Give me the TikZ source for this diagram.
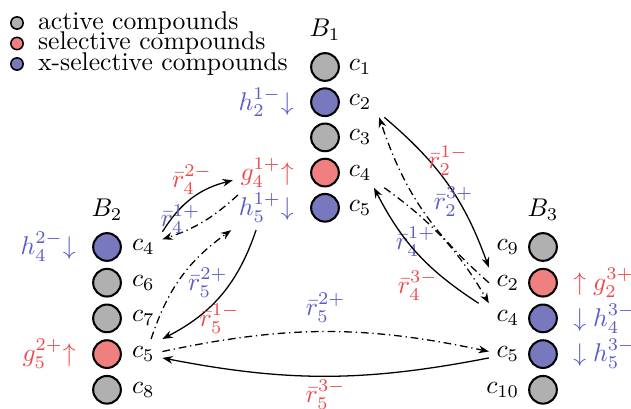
\documentclass[tikz,border=0pt]{standalone}
\usetikzlibrary{positioning,arrows.meta}
\definecolor{actfill}{HTML}{B0B0B0}
\definecolor{selfill}{HTML}{F08080}
\definecolor{xselfill}{HTML}{7878BE}
\definecolor{seltext}{HTML}{F04848}
\definecolor{xseltext}{HTML}{5A5AC8}
\tikzset{
  cpd/.style={circle, draw, line width=0.8pt, fill=#1, minimum size=10.8pt, inner sep=0pt},
  legdot/.style={circle, draw, line width=0.6pt, fill=#1, minimum size=4.8pt, inner sep=0pt},
  clab/.style={inner sep=1pt, outer sep=2pt},
  alab/.style={inner sep=1pt, outer sep=2pt, text=#1},
  rate/.style={->, line width=0.5pt},
  ratedd/.style={rate, dash pattern=on 3pt off 1.5pt on 0.5pt off 1.5pt},
  seltxt/.style={text=seltext},
  xseltxt/.style={text=xseltext},
}
\begin{document}
\begin{tikzpicture}[x=0.39pt, y=-0.39pt, >={Stealth[length=4pt,width=3pt]}]
    \useasboundingbox (0,0) rectangle (631,409);
    % legend
    \foreach \f/\txt [count=\row from 0] in {actfill/active compounds, selfill/selective compounds, xselfill/x-selective compounds} {
        \node[legdot=\f] (leg\row) at (17,{23+20.5*\row}) {};
        \node[right=2pt of leg\row] (legtxt\row) {\txt};
    }
    % block B1
    \foreach \cid/\f [count=\row from 0] in {1/actfill,2/xselfill,3/actfill,4/selfill,5/xselfill} {
        \node[cpd=\f] (b1c\cid) at (325,{67+35.2*\row}) {};
        \node[clab, right=0.5pt of b1c\cid] (n1c\cid) {$c_{\cid}$};
    }
    \node[above=1pt of b1c1] (B1) {$B_1$};
    % block B2
    \foreach \cid/\f [count=\row from 0] in {4/xselfill,6/actfill,7/actfill,5/selfill,8/actfill} {
        \node[cpd=\f] (b2c\cid) at (107,{247+35.7*\row}) {};
        \node[clab, right=1pt of b2c\cid] (n2c\cid) {$c_{\cid}$};
    }
    \node[above=1pt of b2c4] (B2) {$B_2$};
    % block B3
    \foreach \cid/\f [count=\row from 0] in {9/actfill,2/selfill,4/xselfill,5/xselfill,10/actfill} {
        \node[cpd=\f] (b3c\cid) at (543,{247+35.7*\row}) {};
        \node[clab, left=0.5pt of b3c\cid] (n3c\cid) {$c_{\cid}$};
    }
    \node[above=1pt of b3c9] (B3) {$B_3$};
    % gains and losses
    \node[alab=xseltext, left=3.4pt of b1c2] (a1c2) {$h_2^{1-}{\downarrow}$};
    \node[alab=seltext, left=3.4pt of b1c4] (a1c4) {$g_4^{1+}{\uparrow}$};
    \node[alab=xseltext, left=3.4pt of b1c5] (a1c5) {$h_5^{1+}{\downarrow}$};
    \node[alab=xseltext, left=3.4pt of b2c4] (a2c4) {$h_4^{2-}{\downarrow}$};
    \node[alab=seltext, left=3.4pt of b2c5] (a2c5) {$g_5^{2+}{\uparrow}$};
    \node[alab=seltext, right=3pt of b3c2] (a3c2) {${\uparrow}\;g_2^{3+}$};
    \node[alab=xseltext, right=3pt of b3c4] (a3c4) {${\downarrow}\;h_4^{3-}$};
    \node[alab=xseltext, right=3pt of b3c5] (a3c5) {${\downarrow}\;h_5^{3-}$};
    % rates B1 <-> B3
    \draw[rate] ([xshift=2pt]n1c2.south east) to[bend left=15]
        node[midway, above, seltxt] {$\bar r_2^{1-}$} (n3c2.north west);
    \draw[ratedd] (n3c2.west) to[bend left=15]
        node[pos=0.42, above right=-3pt, xseltxt] {$\bar r_2^{3+}$} (n1c2.south east);
    \draw[ratedd] ([xshift=2pt]n1c4.south east) to[bend left=12]
        node[pos=0.4, below left=-6pt, xseltxt] {$\bar r_4^{1+}$} (n3c4.north west);
    \draw[rate] ([xshift=-4pt]n3c4.north west) to[bend left=15]
        node[pos=0.18, left=2.5pt, seltxt] {$\bar r_4^{3-}$} ([xshift=-2pt]n1c4.south east);
    % rates B1 <-> B2
    \draw[rate] (n2c4.north east) to[bend left=22]
        node[midway, above=-2pt, seltxt] {$\bar r_4^{2-}$} ([yshift=-3pt]a1c4.west);
    \draw[ratedd] ([xshift=2pt]a1c4.south west) to[bend left=12]
        node[pos=0.8, above=-4pt, xseltxt] {$\bar r_4^{1+}$} ([yshift=3pt]n2c4.east);
    \draw[ratedd] ([xshift=3pt]n2c5.north) to[bend left=18]
        node[pos=0.45, right=0.5pt, xseltxt] {$\bar r_5^{2+}$} (a1c5.south west);
    \draw[rate] ([xshift=-4pt]a1c5.south) to[bend left=22]
        node[pos=0.75, right=-2pt, seltxt] {$\bar r_5^{1-}$} (n2c5.north east);
    % rates B2 <-> B3
    \draw[ratedd] ([yshift=1pt]n2c5.east) to[bend left=12]
        node[midway, above, xseltxt] {$\bar r_5^{2+}$} ([yshift=1pt]n3c5.west);
    \draw[rate] ([yshift=-1.5pt]n3c5.west) to[bend left=11]
        node[midway, below=-2pt, seltxt] {$\bar r_5^{3-}$} ([yshift=-1.5pt]n2c5.east);
\end{tikzpicture}
\end{document}
